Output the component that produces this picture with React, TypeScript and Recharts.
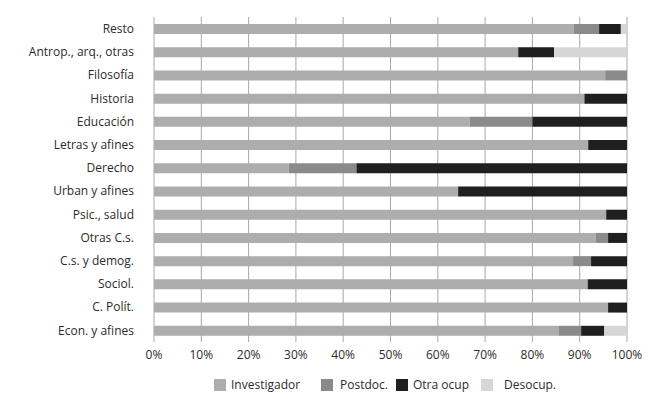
import { BarChart, Bar, XAxis, YAxis, CartesianGrid } from "recharts";

const categories = [
  "Resto",
  "Antrop., arq., otras",
  "Filosofía",
  "Historia",
  "Educación",
  "Letras y afines",
  "Derecho",
  "Urban y afines",
  "Psic., salud",
  "Otras C.s.",
  "C.s. y demog.",
  "Sociol.",
  "C. Polít.",
  "Econ. y afines",
];
const investigador = [88.7, 77.0, 95.4, 91.0, 66.7, 91.8, 28.5, 64.3, 95.6, 93.4, 88.6, 91.7, 96.0, 85.5];
const postdoc = [5.4, 0, 4.6, 0, 13.3, 0, 14.3, 0, 0, 2.6, 3.8, 0, 0, 4.8];
const otraOcup = [4.6, 7.6, 0, 9.0, 20.0, 8.2, 57.2, 35.7, 4.4, 4.0, 7.6, 8.3, 4.0, 4.9];
const desocup = [1.3, 15.4, 0, 0, 0, 0, 0, 0, 0, 0, 0, 0, 0, 4.8];
const xTicks = [0, 10, 20, 30, 40, 50, 60, 70, 80, 90, 100];

const series = [
  { key: "inv", name: "Investigador", color: "#adadad" },
  { key: "post", name: "Postdoc.", color: "#8a8a8a" },
  { key: "otra", name: "Otra ocup", color: "#1f1f1f" },
  { key: "des", name: "Desocup.", color: "#d6d6d6" },
];
// legend placement (swatch left, text left)
const swatchLeft = [214, 321, 396, 481];
const textLeft = [231, 340, 413, 504];

const font = "'Open Sans', sans-serif";
const textColor = "#2b2b2b";

export default function App() {
  const data = categories.map((name, i) => ({
    name,
    inv: investigador[i],
    post: postdoc[i],
    otra: otraOcup[i],
    des: desocup[i],
  }));

  return (
    <div style={{ position: "absolute", left: 0, top: 0, width: 659, height: 399, background: "#fff", fontFamily: font }}>
      <BarChart
        width={659}
        height={399}
        data={data}
        layout="vertical"
        margin={{ top: 17, right: 32, left: 0, bottom: 32 }}
        barSize={10}
      >
        <CartesianGrid horizontal={false} stroke="#a8a8a8" />
        <XAxis
          type="number"
          domain={[0, 100]}
          ticks={xTicks}
          tickFormatter={(v: number) => `${v}%`}
          axisLine={false}
          tickLine={false}
          height={25}
          tick={{ fill: textColor, fontSize: 12, fontFamily: font }}
          interval={0}
        />
        <YAxis
          type="category"
          dataKey="name"
          width={154}
          axisLine={false}
          tickLine={false}
          tickMargin={14}
          interval={0}
          tick={{ fill: textColor, fontSize: 12, fontFamily: font }}
        />
        {series.map((s) => (
          <Bar key={s.key} dataKey={s.key} stackId="a" fill={s.color} isAnimationActive={false} />
        ))}
      </BarChart>
      {series.map((s, i) => (
        <div key={s.key}>
          <span
            style={{
              position: "absolute",
              left: swatchLeft[i],
              top: 379,
              width: 12,
              height: 12,
              background: s.color,
            }}
          />
          <span
            style={{
              position: "absolute",
              left: textLeft[i],
              top: 376,
              fontSize: 12,
              lineHeight: "18px",
              color: textColor,
              whiteSpace: "nowrap",
            }}
          >
            {s.name}
          </span>
        </div>
      ))}
    </div>
  );
}
